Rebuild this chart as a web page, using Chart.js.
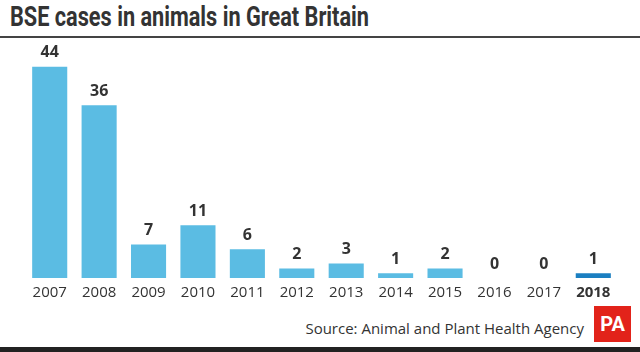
<!DOCTYPE html>
<html lang="en">
<head>
<meta charset="UTF-8">
<title>BSE cases in animals in Great Britain</title>
<script src="https://cdn.jsdelivr.net/npm/chart.js"></script>
<style>
  body { margin: 0; width: 640px; height: 352px; background: #fff; position: relative; overflow: hidden; font-family: "Open Sans", sans-serif; color: #333; }
  #title { position: absolute; left: 10px; top: 0px; font-family: Roboto, sans-serif; font-weight: 700; font-size: 28px; color: #333; transform: scaleX(0.775); transform-origin: left top; white-space: nowrap; }
  #rule { position: absolute; left: 0; top: 36px; width: 640px; height: 2px; background: #444; }
  #wrap { position: absolute; left: 0; top: 38px; width: 640px; height: 262px; }
  #source { position: absolute; right: 56px; top: 318px; font-size: 15px; color: #333; }
  #pa { position: absolute; left: 594px; top: 306px; width: 37px; height: 36px; background: #e2231a; color: #fff; font-family: Roboto, sans-serif; font-weight: 700; font-size: 20px; text-align: center; line-height: 36px; }
  #bottom { position: absolute; left: 0; top: 347px; width: 640px; height: 5px; background: #222; }
</style>
</head>
<body>
<div id="title">BSE cases in animals in Great Britain</div>
<div id="rule"></div>
<div id="wrap"><canvas id="chart"></canvas></div>
<div id="source">Source: Animal and Plant Health Agency</div>
<div id="pa">PA</div>
<div id="bottom"></div>
<script>
const years = ["2007", "2008", "2009", "2010", "2011", "2012", "2013", "2014", "2015", "2016", "2017", "2018"]
const cases = [44, 36, 7, 11, 6, 2, 3, 1, 2, 0, 0, 1]
const barColors = years.map((y, i) => (i === years.length - 1 ? "#1b7fc1" : "#5bbce3"))

// draw the numbers above each bar
const valueLabels = {
  id: "valueLabels",
  afterDatasetsDraw(chart) {
    const ctx = chart.ctx
    const meta = chart.getDatasetMeta(0)
    ctx.save()
    ctx.font = "bold 16px 'Open Sans', sans-serif"
    ctx.fillStyle = "#333"
    ctx.textAlign = "center"
    ctx.textBaseline = "bottom"
    meta.data.forEach((bar, i) => {
      ctx.fillText(cases[i], bar.x, bar.y - 6)
    })
    ctx.restore()
  },
}

new Chart(document.getElementById("chart"), {
  type: "bar",
  data: {
    labels: years,
    datasets: [
      {
        data: cases,
        backgroundColor: barColors,
        barPercentage: 0.71,
        categoryPercentage: 1,
      },
    ],
  },
  options: {
    responsive: true,
    maintainAspectRatio: false,
    animation: false,
    layout: { padding: { left: 25, right: 22, top: 0, bottom: 0 } },
    plugins: { legend: { display: false }, tooltip: { enabled: false } },
    scales: {
      x: {
        grid: { display: false },
        border: { display: false },
        ticks: {
          color: "#333",
          padding: -2,
          font: (c) => ({
            family: "'Open Sans', sans-serif",
            size: 15,
            weight: c.index === years.length - 1 ? "bold" : "normal",
          }),
        },
      },
      y: {
        display: false,
        min: 0,
        max: 50,
      },
    },
  },
  plugins: [valueLabels],
})
</script>
</body>
</html>
